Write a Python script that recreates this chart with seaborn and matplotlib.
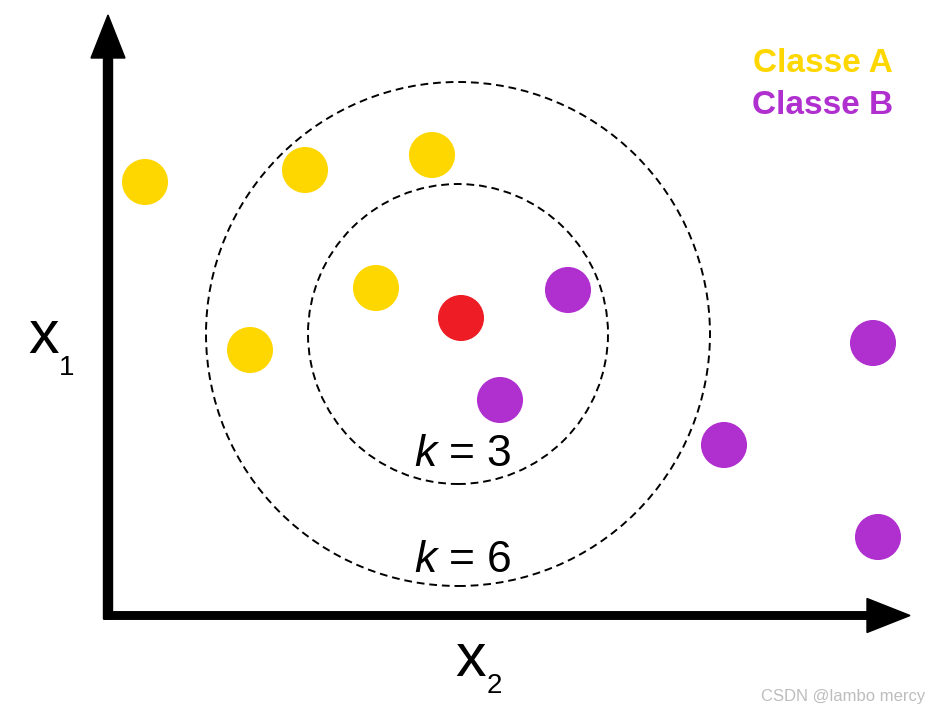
import pandas as pd
import matplotlib
matplotlib.use('Agg')
import matplotlib.pyplot as plt
import seaborn as sns
from matplotlib.patches import Circle

# point positions (origin at the corner of the axes, units ~ pixels)
class_a_x2 = [38, 198, 325, 269, 143]
class_a_x1 = [430, 442, 457, 324, 262]
class_b_x2 = [461, 393, 617, 766, 771]
class_b_x1 = [322, 212, 167, 269, 75]
query_x2 = [354]
query_x1 = [294]

# neighbourhood circles
k_values = [3, 6]
k_radius = [150, 252]
k_label_offset = [30, 25]
circle_center = (351, 278)

labels = ['Classe A', 'Classe B']
colors = {'Classe A': '#FFD700', 'Classe B': '#B02FCF', 'query': '#EE1C25'}

df = pd.DataFrame({
    'x2': class_a_x2 + class_b_x2 + query_x2,
    'x1': class_a_x1 + class_b_x1 + query_x1,
    'cls': ['Classe A'] * 5 + ['Classe B'] * 5 + ['query'],
})

sns.set_style('white')
plt.rcParams['font.family'] = ['Liberation Sans', 'DejaVu Sans']
plt.rcParams['text.color'] = 'black'
plt.rcParams['mathtext.fontset'] = 'custom'
plt.rcParams['mathtext.it'] = 'Liberation Sans:italic'
plt.rcParams['mathtext.rm'] = 'Liberation Sans'

fig = plt.figure(figsize=(9.38, 7.14), dpi=100)
ax = fig.add_axes([0, 0, 1, 1])
ax.set_xlim(-107, 831)
ax.set_ylim(-102, 612)
ax.axis('off')

sns.scatterplot(data=df, x='x2', y='x1', hue='cls', palette=colors, s=1100,
                linewidth=0, legend=False, ax=ax, zorder=3)

for k, r, off in zip(k_values, k_radius, k_label_offset):
    ax.add_patch(Circle(circle_center, r, fill=False, ls=(0, (4, 2.5)), lw=1.4,
                        color='black', zorder=2))
    ax.text(circle_center[0] + 5, circle_center[1] - r + off, f'$k$ = {k}',
            fontsize=32, ha='center', va='center', color='black')

# axes arrows
ax.arrow(1, -7, 0, 604, width=9, head_width=34, head_length=43,
         length_includes_head=True, color='black', zorder=4)
ax.arrow(-3, -3.5, 806, 0, width=7.5, head_width=34, head_length=43,
         length_includes_head=True, color='black', zorder=4)

# axis labels
ax.text(-79, 259, 'x', fontsize=44, ha='left', va='baseline', color='black')
ax.text(-48, 237, '1', fontsize=20, ha='left', va='baseline', color='black')
ax.text(348, -64, 'x', fontsize=44, ha='left', va='baseline', color='black')
ax.text(380, -81, '2', fontsize=20, ha='left', va='baseline', color='black')

# legend text
ax.text(716, 548, labels[0], fontsize=24, fontweight='bold', color=colors['Classe A'],
        ha='center', va='center')
ax.text(716, 506, labels[1], fontsize=24, fontweight='bold', color=colors['Classe B'],
        ha='center', va='center')

ax.text(818, -85, 'CSDN @lambo mercy', fontsize=12, color='#bdbdbd',
        ha='right', va='center')

fig.savefig('out.png', dpi=100)
